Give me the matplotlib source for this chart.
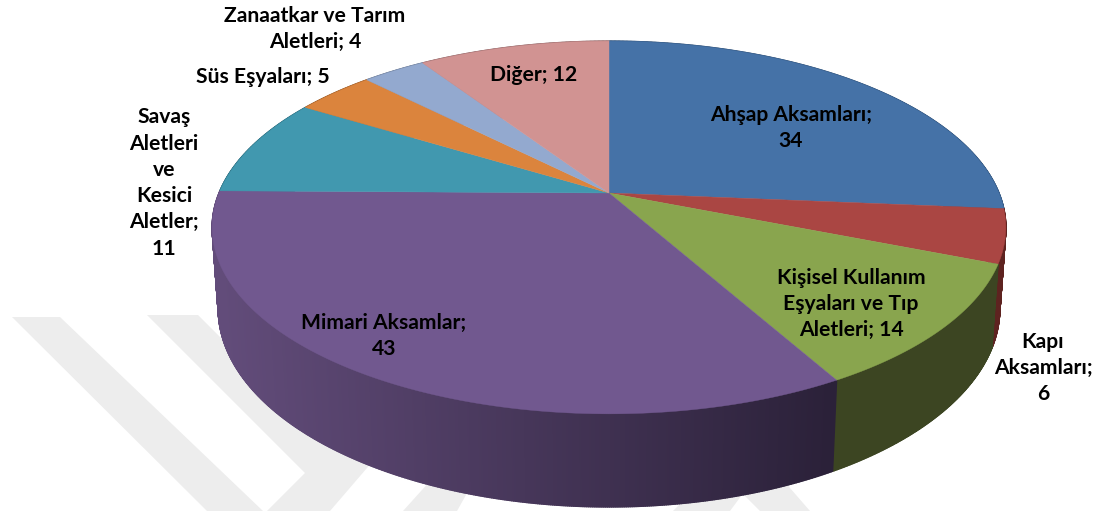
import numpy as np
import matplotlib
matplotlib.use('Agg')
import matplotlib.pyplot as plt
from matplotlib.collections import PolyCollection
from matplotlib.colors import to_rgb

plt.rcParams['font.family'] = ['Lato', 'DejaVu Sans']

# chart data
labels = ['Ahşap Aksamları;\n34', 'Kapı\nAksamları;\n6', 'Kişisel Kullanım\nEşyaları ve Tıp\nAletleri; 14',
          'Mimari Aksamlar;\n43', 'Savaş\nAletleri\nve\nKesici\nAletler;\n11', 'Süs Eşyaları; 5',
          'Zanaatkar ve Tarım\nAletleri; 4', 'Diğer; 12']
values = [34, 6, 14, 43, 11, 5, 4, 12]
colors = ['#4572A7', '#AA4643', '#89A54E', '#71588F', '#4198AF', '#DB843D', '#93A9CF', '#D19392']
side_left = ['#33557d', '#5e2320', '#3c4522', '#624c7a', '#2f6f80', '#9c5d2a', '#6b7b97', '#96696a']
side_right = ['#33557d', '#5e2320', '#3c4522', '#2b2139', '#2f6f80', '#9c5d2a', '#6b7b97', '#96696a']
label_x = [791, 1043, 851, 384, 164, 263, 315, 534]
label_y = [128, 368, 304, 336, 183, 77, 29, 75]

# pie geometry in pixels
cx, cy = 609, 193
a, b, k = 390, 180, 0.185
depth, shrink = 80.6, 0.015


def rim(t, lower=False):
    """project a circle angle (clockwise from top) to picture pixels."""
    X, Y = np.sin(t), np.cos(t)
    if lower:
        w = 1 + k * Y + shrink
        return cx + a * X / w, cy + (depth - b * Y) / w
    w = 1 + k * Y
    return cx + a * X / w, cy - b * Y / w


fig = plt.figure(figsize=(11, 5.11), dpi=100)
ax = fig.add_axes([0, 0, 1, 1])
ax.set_xlim(0, 1100)
ax.set_ylim(511, 0)
ax.axis('off')

# watermark behind the pie
stroke = '#ededed'
ax.fill([12, 60, 263, 207], [317, 317, 511, 511], color=stroke, lw=0, zorder=0)
ax.fill([147, 198, 260, 420, 367, 330, 267, 305], [315, 315, 377, 400, 468, 511, 511, 473],
        color=stroke, lw=0, zorder=0)
ax.fill([403, 440, 480, 457], [511, 470, 470, 511], color=stroke, lw=0, zorder=0)
ax.fill([673, 700, 750, 730], [511, 484, 484, 511], color=stroke, lw=0, zorder=0)
ax.fill([760, 730, 770, 810], [511, 481, 465, 511], color=stroke, lw=0, zorder=0)

edges = np.cumsum([0] + values) / sum(values) * 2 * np.pi

# sides first, far parts before near parts
quads, quad_colors = [], []
for i in range(len(values)):
    steps = np.linspace(edges[i], edges[i + 1], values[i] * 12 + 2)
    for t0, t1 in zip(steps[:-1], steps[1:]):
        x0, y0 = rim(t0)
        x1, y1 = rim(t1)
        x2, y2 = rim(t1, True)
        x3, y3 = rim(t0, True)
        quads.append([(x0, y0), (x1, y1), (x2, y2), (x3, y3)])
        f = np.clip((x0 - 222) / (830 - 222), 0, 1)
        c = (1 - f) * np.array(to_rgb(side_left[i])) + f * np.array(to_rgb(side_right[i]))
        quad_colors.append((np.cos(t0), tuple(c)))
order = np.argsort([-q[0] for q in quad_colors])
ax.add_collection(PolyCollection([quads[j] for j in order], facecolors=[quad_colors[j][1] for j in order],
                                 edgecolors=[quad_colors[j][1] for j in order], linewidths=1.0, zorder=1))

# top face
for i in range(len(values)):
    t = np.linspace(edges[i], edges[i + 1], 120)
    x, y = rim(t)
    ax.fill(np.r_[cx, x], np.r_[cy, y], color=colors[i], lw=0.3, zorder=2)

for i in range(len(labels)):
    ax.text(label_x[i], label_y[i], labels[i], ha='center', va='center', fontsize=15.2, fontweight='bold',
            color='black', linespacing=1.39, zorder=3)

fig.savefig('out.png', dpi=100)
